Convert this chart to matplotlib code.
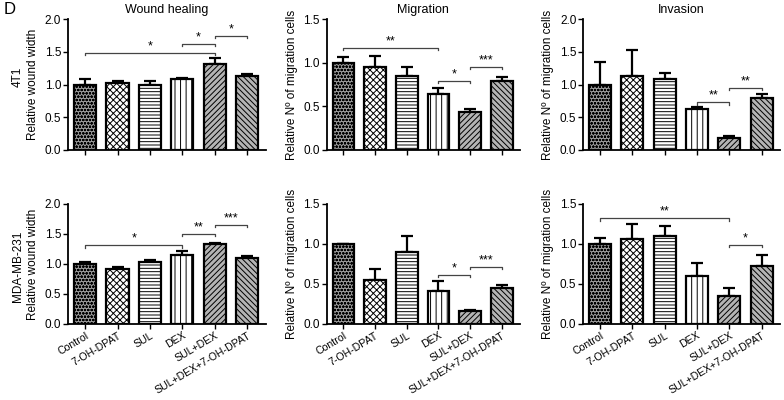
import matplotlib
matplotlib.use("Agg")
import matplotlib.pyplot as plt
import numpy as np

plt.rcParams['font.family'] = ['Liberation Sans', 'DejaVu Sans']
plt.rcParams['hatch.linewidth'] = 0.7

groups = ["Control", "7-OH-DPAT", "SUL", "DEX", "SUL+DEX", "SUL+DEX+7-OH-DPAT"]

wound_4t1 = [1.00, 1.03, 0.99, 1.09, 1.32, 1.13]
wound_4t1_err = [0.09, 0.03, 0.06, 0.01, 0.09, 0.03]
mig_4t1 = [1.00, 0.95, 0.85, 0.64, 0.44, 0.79]
mig_4t1_err = [0.07, 0.13, 0.10, 0.07, 0.035, 0.05]
inv_4t1 = [1.00, 1.13, 1.08, 0.63, 0.19, 0.79]
inv_4t1_err = [0.34, 0.40, 0.10, 0.02, 0.03, 0.07]

wound_mda = [1.00, 0.92, 1.03, 1.15, 1.34, 1.10]
wound_mda_err = [0.03, 0.03, 0.04, 0.07, 0.01, 0.04]
mig_mda = [1.00, 0.55, 0.90, 0.41, 0.16, 0.45]
mig_mda_err = [0.0, 0.14, 0.20, 0.13, 0.01, 0.04]
inv_mda = [1.00, 1.065, 1.10, 0.60, 0.35, 0.72]
inv_mda_err = [0.07, 0.18, 0.13, 0.16, 0.10, 0.14]

# significance brackets: (from, to, height, stars)
sig_wound_4t1 = [(0, 4, 1.48, "*"), (3, 4, 1.62, "*"), (4, 5, 1.74, "*")]
sig_mig_4t1 = [(0, 3, 1.17, "**"), (3, 4, 0.79, "*"), (4, 5, 0.95, "***")]
sig_inv_4t1 = [(3, 4, 0.73, "**"), (4, 5, 0.95, "**")]
sig_wound_mda = [(0, 3, 1.31, "*"), (3, 4, 1.50, "**"), (4, 5, 1.65, "***")]
sig_mig_mda = [(3, 4, 0.61, "*"), (4, 5, 0.71, "***")]
sig_inv_mda = [(0, 4, 1.32, "**"), (4, 5, 0.99, "*")]

faces = ["#9c9c9c", "white", "white", "white", "#b4b4b4", "#b4b4b4"]
hatches = ["ooooo", "xxxxx", "-----", "|||", "//////", "\\\\\\\\\\\\"]

ylab_w = "Relative wound width"
ylab_m = "Relative N\u00ba of migration cells"

fig = plt.figure(figsize=(7.84, 4.0), dpi=100)

panels = [
    ([0.087, 0.625, 0.252, 0.3275], wound_4t1, wound_4t1_err, sig_wound_4t1, 2.0, ylab_w, "Wound healing", False),
    ([0.417, 0.625, 0.246, 0.3275], mig_4t1, mig_4t1_err, sig_mig_4t1, 1.5, ylab_m, "Migration", False),
    ([0.744, 0.625, 0.251, 0.3275], inv_4t1, inv_4t1_err, sig_inv_4t1, 2.0, ylab_m, "Invasion", False),
    ([0.087, 0.19, 0.252, 0.30], wound_mda, wound_mda_err, sig_wound_mda, 2.0, ylab_w, None, True),
    ([0.417, 0.19, 0.246, 0.30], mig_mda, mig_mda_err, sig_mig_mda, 1.5, ylab_m, None, True),
    ([0.744, 0.19, 0.251, 0.30], inv_mda, inv_mda_err, sig_inv_mda, 1.5, ylab_m, None, True),
]

x = np.arange(len(groups))
for rect, vals, errs, sigs, ymax, ylab, title, show_lab in panels:
    ax = fig.add_axes(rect)
    for i in range(len(groups)):
        ax.bar(x[i], vals[i], width=0.68, color=faces[i], edgecolor="black",
               hatch=hatches[i], linewidth=1.6, zorder=2)
    ax.errorbar(x, vals, yerr=[np.zeros(len(errs)), errs], fmt="none",
                ecolor="black", elinewidth=1.6, capsize=4, capthick=1.6, zorder=1)
    for a, b, h, s in sigs:
        d = ymax * 0.018
        ax.plot([a, a, b, b], [h - d, h, h, h - d], color="#444444", lw=0.9)
        ax.text((a + b) / 2, h + ymax * 0.005, s, ha="center", va="bottom", fontsize=9)
    ax.set_xlim(-0.52, 5.57)
    ax.set_ylim(0, ymax)
    ax.set_yticks(np.arange(0, ymax + 0.01, 0.5))
    ax.set_yticklabels([f"{v:.1f}" for v in np.arange(0, ymax + 0.01, 0.5)])
    ax.set_xticks(x)
    if show_lab:
        ax.set_xticklabels(groups, rotation=31, ha="right", rotation_mode="anchor", fontsize=7.6)
    else:
        ax.set_xticklabels([])
    ax.spines["top"].set_visible(False)
    ax.spines["right"].set_visible(False)
    ax.spines["left"].set_linewidth(1.3)
    ax.spines["bottom"].set_linewidth(1.3)
    ax.tick_params(axis="y", labelsize=8.5, width=1.0, length=3.5, pad=1.5)
    ax.tick_params(axis="x", width=1.0, length=3.5, pad=1.0)
    ax.set_ylabel(ylab, fontsize=8.5, labelpad=4)
    if title:
        ax.set_title(title, fontsize=9, pad=4)

fig.text(0.005, 0.975, "D", fontsize=12, va="center")
fig.text(0.023, 0.807, "4T1", fontsize=8.5, rotation=90, ha="center", va="center")
fig.text(0.023, 0.333, "MDA-MB-231", fontsize=8.5, rotation=90, ha="center", va="center")

fig.savefig("out.png", dpi=100)
